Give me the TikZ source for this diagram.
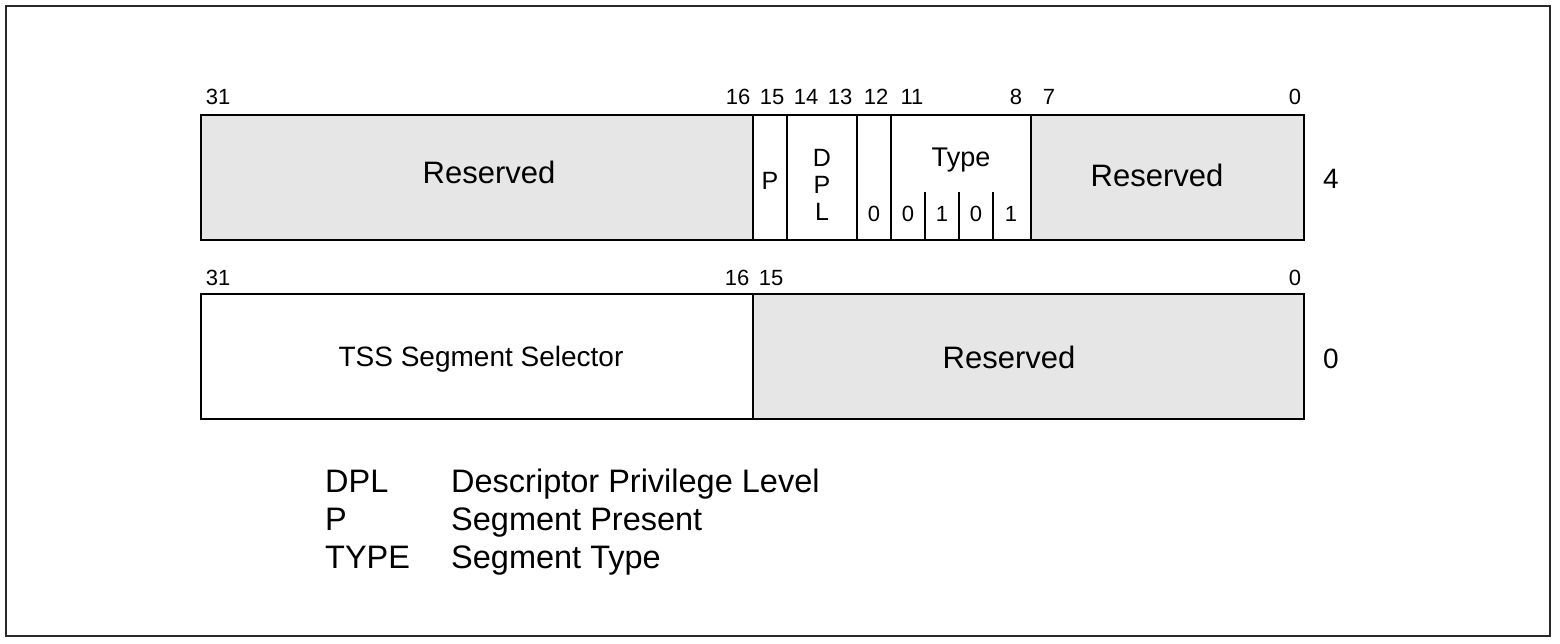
\documentclass[tikz,border=0pt]{standalone}
\usepackage{fontspec}
\setmainfont{Liberation Sans}
\definecolor{resgray}{HTML}{E6E6E6}
\definecolor{framegray}{HTML}{2A2A2A}
\newcommand{\fsz}[1]{\fontsize{#1}{#1}\selectfont}
\begin{document}
\begin{tikzpicture}[x=1pt,y=-1pt,
  field/.style={draw=black, line width=1.6pt},
  resv/.style={field, fill=resgray},
  tick/.style={draw=black, line width=1.2pt},
  lbl/.style={anchor=base, inner sep=0pt},
  bitnum/.style={lbl, font=\fsz{22}},
  bigtxt/.style={lbl, font=\fsz{31}},
  midtxt/.style={lbl, font=\fsz{28}},
  flagtxt/.style={lbl, font=\fsz{25}},
  bittxt/.style={lbl, font=\fsz{22}},
  legtxt/.style={anchor=base west, inner sep=0pt, font=\fsz{32.5}}]
\useasboundingbox (0,0) rectangle (1560,643);
% outer frame
\draw[framegray, line width=2pt] (6,6) rectangle (1550,636);

% ---- word at offset 4 ----
\draw[resv] (201,115) rectangle (753,240);
\draw[field] (753,115) rectangle (1031,240);
\draw[resv] (1031,115) rectangle (1304,240);
\draw[field] (787,115) -- (787,240);
\draw[field] (857,115) -- (857,240);
\draw[field] (891,115) -- (891,240);
\foreach \x in {925,959,993} \draw[tick] (\x,192) -- (\x,240);

% bit positions
\node[bitnum] (t31) at (218,104) {31};
\node[bitnum] (t16) at (738,104) {16};
\node[bitnum] (t15) at (772,104) {15};
\node[bitnum] (t14) at (806,104) {14};
\node[bitnum] (t13) at (840,104) {13};
\node[bitnum] (t12) at (876,104) {12};
\node[bitnum] (t11) at (912,104) {11};
\node[bitnum] (t8)  at (1016,104) {8};
\node[bitnum] (t7)  at (1049,104) {7};
\node[bitnum] (t0)  at (1295,104) {0};

% field contents
\node[bigtxt] (resA) at (489,183) {Reserved};
\node[flagtxt] (pflag) at (770,189) {P};
\node[flagtxt] (dplD) at (822,166) {D};
\node[flagtxt] (dplP) at (822,193) {P};
\node[flagtxt] (dplL) at (822,220) {L};
\node[bittxt] (b12) at (874,221) {0};
\node[lbl, font=\fsz{27}] (type) at (961,166) {Type};
\node[bittxt] (b11) at (908,221) {0};
\node[bittxt] (b10) at (942,221) {1};
\node[bittxt] (b9)  at (976,221) {0};
\node[bittxt] (b8)  at (1011,221) {1};
\node[bigtxt] (resB) at (1157,186) {Reserved};
\node[midtxt] (off4) at (1331,188) {4};

% ---- word at offset 0 ----
\draw[field] (201,294) rectangle (753,419);
\draw[resv] (753,294) rectangle (1304,419);

\node[bitnum] (u31) at (218,285) {31};
\node[bitnum] (u16) at (737,285) {16};
\node[bitnum] (u15) at (771,285) {15};
\node[bitnum] (u0)  at (1295,285) {0};

\node[midtxt] (tss) at (481,366) {TSS Segment Selector};
\node[bigtxt] (resC) at (1009,368) {Reserved};
\node[midtxt] (off0) at (1331,368) {0};

% ---- legend ----
\node[legtxt] (kDPL)  at (325,492) {DPL};
\node[legtxt] (vDPL)  at (451,492) {Descriptor Privilege Level};
\node[legtxt] (kP)    at (325,530) {P};
\node[legtxt] (vP)    at (451,530) {Segment Present};
\node[legtxt] (kTYPE) at (325,568) {TYPE};
\node[legtxt] (vTYPE) at (451,568) {Segment Type};
\end{tikzpicture}
\end{document}
